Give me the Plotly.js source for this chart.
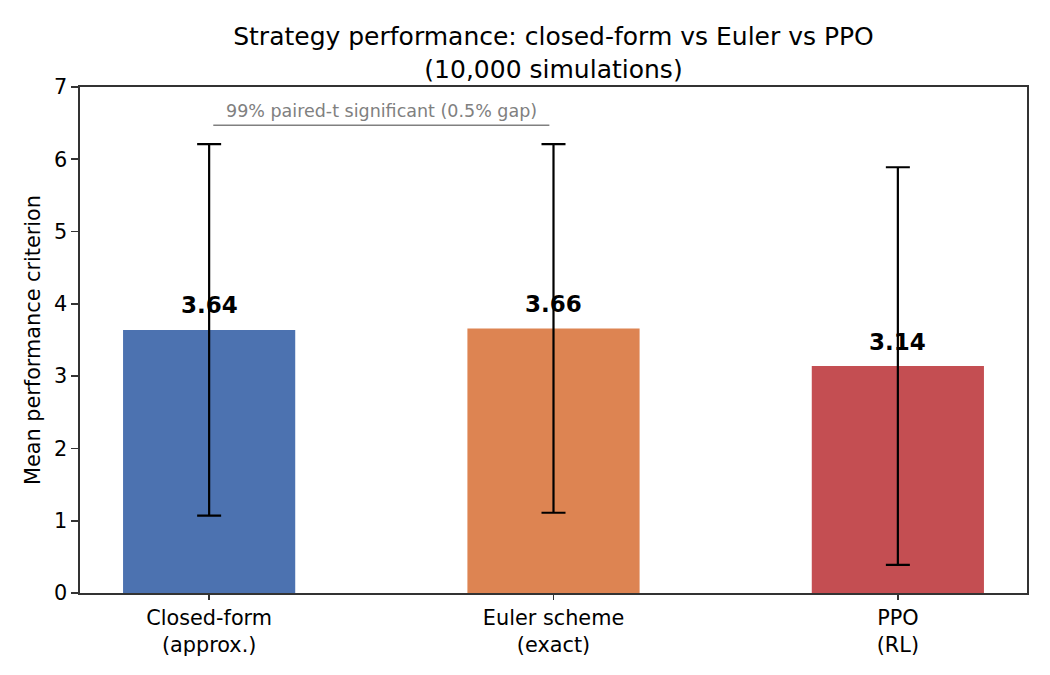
<!DOCTYPE html>
<html>
<head>
<meta charset="utf-8">
<script src="https://cdn.plot.ly/plotly-3.0.1.min.js"></script>
<style>
  html, body { margin: 0; padding: 0; background: #fff; }
  #chart { width: 1050px; height: 675px; }
</style>
</head>
<body>
<div id="chart"></div>
<script>
var categories = ['Closed-form<br>(approx.)', 'Euler scheme<br>(exact)', 'PPO<br>(RL)'];
var means = [3.64, 3.66, 3.14];
var errors = [2.57, 2.55, 2.75];
var barColors = ['#4C72B0', '#DD8452', '#C44E52'];
var sigPair = [0, 1];
var sigLabel = '99% paired-t significant (0.5% gap)';

var positions = categories.map(function (c, i) { return i; });
var fontFamily = 'DejaVu Sans, sans-serif';

var trace = {
  type: 'bar',
  x: positions,
  y: means,
  width: 0.5,
  marker: { color: barColors, line: { width: 0 } },
  error_y: {
    type: 'data',
    array: errors,
    visible: true,
    color: '#000',
    thickness: 2.2,
    width: 12
  },
  hoverinfo: 'skip'
};

// value labels above each bar
var annotations = means.map(function (m, i) {
  return {
    x: positions[i],
    y: m + 0.13,
    xref: 'x',
    yref: 'y',
    yanchor: 'bottom',
    text: '<b>' + m.toFixed(2) + '</b>',
    showarrow: false,
    font: { family: fontFamily, size: 23, color: '#000' }
  };
});

var sigTop = Math.max(means[sigPair[0]] + errors[sigPair[0]], means[sigPair[1]] + errors[sigPair[1]]) + 0.26;

annotations.push({
  x: (positions[sigPair[0]] + positions[sigPair[1]]) / 2,
  y: sigTop + 0.03,
  xref: 'x',
  yref: 'y',
  yanchor: 'bottom',
  text: sigLabel,
  showarrow: false,
  font: { family: fontFamily, size: 17.5, color: '#808080' }
});

var layout = {
  width: 1050,
  height: 675,
  margin: { l: 80, r: 23, t: 87, b: 82, pad: 0 },
  paper_bgcolor: '#fff',
  plot_bgcolor: '#fff',
  showlegend: false,
  font: { family: fontFamily, size: 20.8, color: '#000' },
  title: {
    text: 'Strategy performance: closed-form vs Euler vs PPO<br>(10,000 simulations)',
    font: { family: fontFamily, size: 25, color: '#000' },
    x: 0.5,
    xref: 'paper',
    y: 0.933,
    yref: 'container',
    yanchor: 'top'
  },
  xaxis: {
    range: [-0.375, 2.375],
    tickvals: positions,
    ticktext: categories,
    ticks: 'outside',
    ticklen: 5,
    tickwidth: 1.6,
    tickcolor: '#333',
    showline: true,
    linecolor: '#333',
    linewidth: 1.6,
    mirror: true,
    showgrid: false,
    zeroline: false,
    tickfont: { family: fontFamily, size: 20.8, color: '#000' }
  },
  yaxis: {
    range: [0, 7],
    dtick: 1,
    ticks: 'outside',
    ticklen: 7,
    tickwidth: 1.6,
    tickcolor: '#333',
    showline: true,
    linecolor: '#333',
    linewidth: 1.6,
    mirror: true,
    showgrid: false,
    zeroline: false,
    tickfont: { family: fontFamily, size: 20.8, color: '#000' },
    title: {
      text: 'Mean performance criterion',
      font: { family: fontFamily, size: 20.8, color: '#000' },
      standoff: 8
    }
  },
  shapes: [{
    type: 'line',
    xref: 'x',
    yref: 'y',
    x0: positions[sigPair[0]] + 0.012,
    x1: positions[sigPair[1]] - 0.012,
    y0: sigTop,
    y1: sigTop,
    line: { color: '#808080', width: 1.6 }
  }],
  annotations: annotations
};

var config = { responsive: false, displayModeBar: false, staticPlot: true };

Plotly.newPlot('chart', [trace], layout, config);
</script>
</body>
</html>
